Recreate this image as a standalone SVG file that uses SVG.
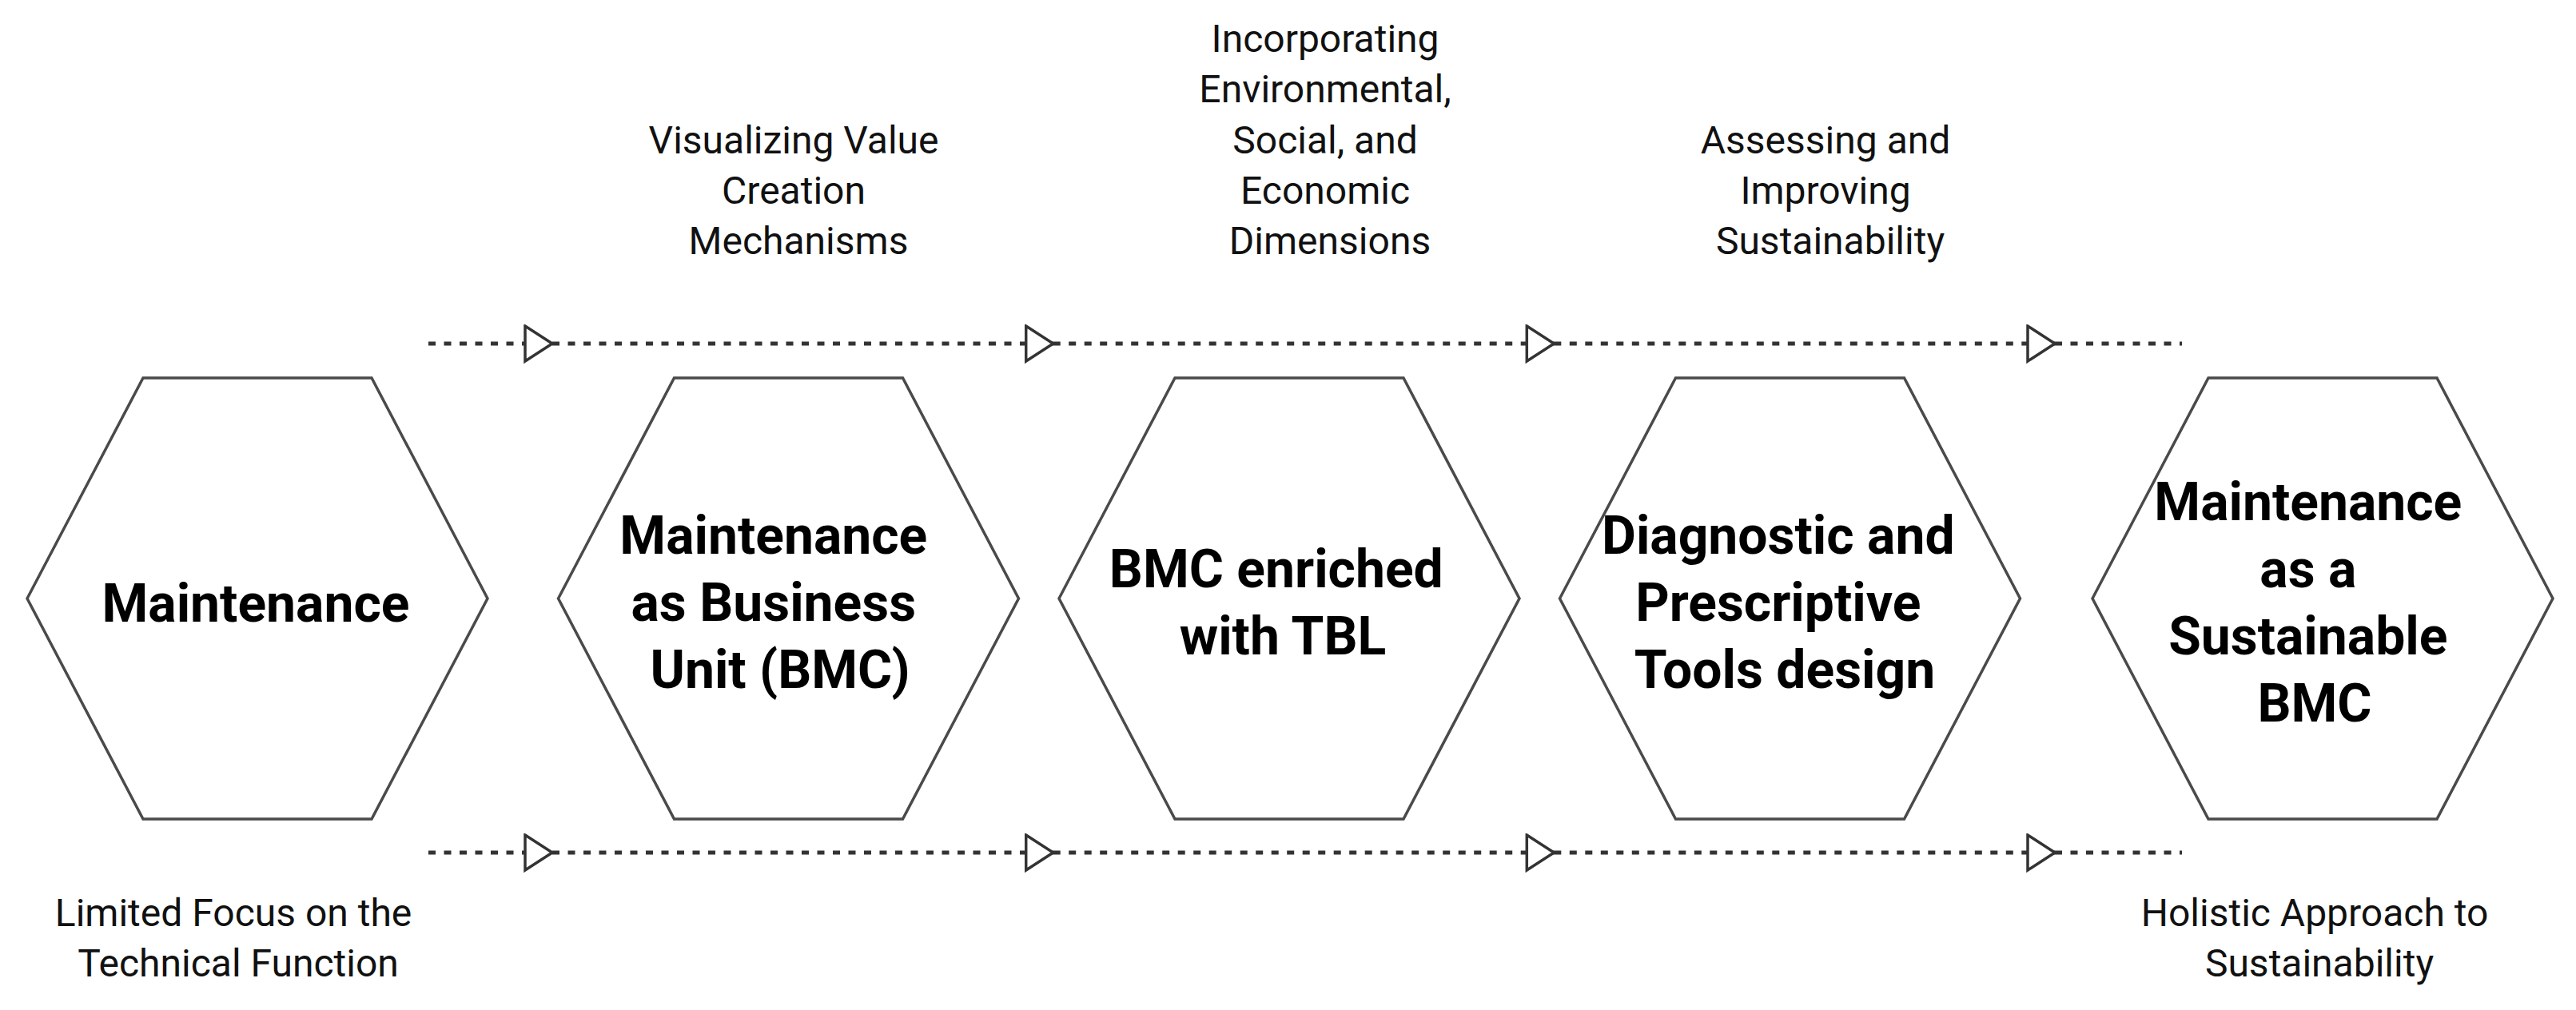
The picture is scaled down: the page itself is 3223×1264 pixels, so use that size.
<svg xmlns="http://www.w3.org/2000/svg" width="3223" height="1264" viewBox="0 0 3223 1264">
  <style>
    .hex { fill: #ffffff; stroke: #4a4a4a; stroke-width: 3.5; stroke-linejoin: miter; }
    .title { font-family: Roboto, "Liberation Sans", sans-serif; font-weight: 700; font-size: 66px; fill: #000000; text-anchor: middle; }
    .label { font-family: Roboto, "Liberation Sans", sans-serif; font-weight: 400; font-size: 48px; fill: #111111; text-anchor: middle; }
    .flow { fill: none; stroke: #333333; stroke-width: 5; stroke-dasharray: 9 10.5; }
  </style>
  <defs>
    <marker id="tri" markerUnits="userSpaceOnUse" markerWidth="40" markerHeight="50" viewBox="-2 -2 40 50" refX="34" refY="22" orient="auto">
      <path d="M0,0 L34,22 L0,44 Z" fill="#ffffff" stroke="#333333" stroke-width="3.5" stroke-dasharray="none" stroke-linejoin="miter"/>
    </marker>
  </defs>
  <rect width="3223" height="1264" fill="#ffffff"/>

  <g id="connectors">
    <line class="flow" x1="536" y1="430" x2="691" y2="430" marker-end="url(#tri)"/>
    <line class="flow" x1="691" y1="430" x2="1317.7" y2="430" marker-end="url(#tri)"/>
    <line class="flow" x1="1317.7" y1="430" x2="1944.3" y2="430" marker-end="url(#tri)"/>
    <line class="flow" x1="1944.3" y1="430" x2="2571" y2="430" marker-end="url(#tri)"/>
    <line class="flow" x1="2571" y1="430" x2="2730" y2="430"/>
    <line class="flow" x1="536" y1="1067" x2="691" y2="1067" marker-end="url(#tri)"/>
    <line class="flow" x1="691" y1="1067" x2="1317.7" y2="1067" marker-end="url(#tri)"/>
    <line class="flow" x1="1317.7" y1="1067" x2="1944.3" y2="1067" marker-end="url(#tri)"/>
    <line class="flow" x1="1944.3" y1="1067" x2="2571" y2="1067" marker-end="url(#tri)"/>
    <line class="flow" x1="2571" y1="1067" x2="2730" y2="1067"/>
  </g>

  <g id="node-maintenance">
    <polygon class="hex" points="34,749 179,473 465,473 610,749 465,1025 179,1025"/>
    <text class="title" x="320" y="778">Maintenance</text>
  </g>

  <g id="node-business-unit">
    <polygon class="hex" points="698.5,749 843.5,473 1129.5,473 1274.5,749 1129.5,1025 843.5,1025"/>
    <text class="title" x="976">
      <tspan x="976" y="693">Maintenance</tspan>
      <tspan x="976" y="777">as Business</tspan>
      <tspan x="976" y="861">Unit (BMC)</tspan>
    </text>
  </g>

  <g id="node-bmc-tbl">
    <polygon class="hex" points="1325,749 1470,473 1756,473 1901,749 1756,1025 1470,1025"/>
    <text class="title">
      <tspan x="1605" y="735">BMC enriched</tspan>
      <tspan x="1605" y="819">with TBL</tspan>
    </text>
  </g>

  <g id="node-tools">
    <polygon class="hex" points="1951.5,749 2096.5,473 2382.5,473 2527.5,749 2382.5,1025 2096.5,1025"/>
    <text class="title">
      <tspan x="2233" y="693">Diagnostic and</tspan>
      <tspan x="2233" y="777">Prescriptive</tspan>
      <tspan x="2233" y="861">Tools design</tspan>
    </text>
  </g>

  <g id="node-sustainable-bmc">
    <polygon class="hex" points="2618,749 2763,473 3049,473 3194,749 3049,1025 2763,1025"/>
    <text class="title">
      <tspan x="2896" y="651">Maintenance</tspan>
      <tspan x="2896" y="735">as a</tspan>
      <tspan x="2896" y="819">Sustainable</tspan>
      <tspan x="2896" y="903">BMC</tspan>
    </text>
  </g>

  <g id="labels">
    <text class="label">
      <tspan x="999" y="192">Visualizing Value</tspan>
      <tspan x="999" y="255">Creation</tspan>
      <tspan x="999" y="318">Mechanisms</tspan>
    </text>
    <text class="label">
      <tspan x="1664" y="65">Incorporating</tspan>
      <tspan x="1664" y="128">Environmental,</tspan>
      <tspan x="1664" y="192">Social, and</tspan>
      <tspan x="1664" y="255">Economic</tspan>
      <tspan x="1664" y="318">Dimensions</tspan>
    </text>
    <text class="label">
      <tspan x="2290" y="192">Assessing and</tspan>
      <tspan x="2290" y="255">Improving</tspan>
      <tspan x="2290" y="318">Sustainability</tspan>
    </text>
    <text class="label">
      <tspan x="298" y="1159">Limited Focus on the</tspan>
      <tspan x="298" y="1222">Technical Function</tspan>
    </text>
    <text class="label">
      <tspan x="2902" y="1159">Holistic Approach to</tspan>
      <tspan x="2902" y="1222">Sustainability</tspan>
    </text>
  </g>
</svg>
